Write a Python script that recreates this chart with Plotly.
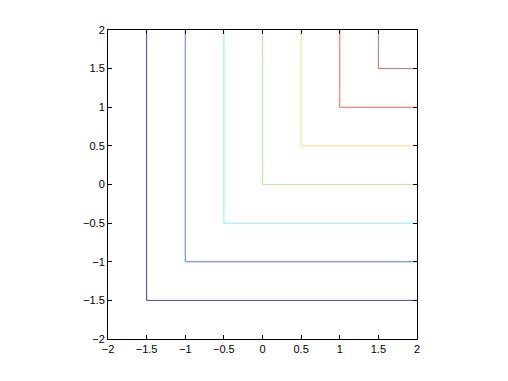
import plotly.graph_objects as go

levels = [-1.5, -1.0, -0.5, 0.0, 0.5, 1.0, 1.5]
colors = ["#4040b0", "#5a78e6", "#80f0f8", "#b8f0a0", "#f8dc78", "#f06450", "#b47070"]
x_ticks = [-2, -1.5, -1, -0.5, 0, 0.5, 1, 1.5, 2]
tick_labels = ["\u22122", "\u22121.5", "\u22121", "\u22120.5", "0", "0.5", "1", "1.5", "2"]
lim = [-2, 2]

fig = go.Figure()
for c, col in zip(levels, colors):
    fig.add_trace(go.Scatter(x=[c, c, lim[1]], y=[lim[1], c, c], mode="lines",
                             line=dict(color=col, width=1), showlegend=False,
                             hoverinfo="skip"))

axis_common = dict(range=lim, tickvals=x_ticks, ticktext=tick_labels,
                   ticks="inside", ticklen=4, tickcolor="black", tickwidth=1,
                   showline=True, linecolor="black", linewidth=1, mirror="ticks",
                   showgrid=False, zeroline=False,
                   tickfont=dict(family="Liberation Sans, Arial", size=11, color="black"))

fig.update_layout(width=508, height=381,
                  margin=dict(l=100, r=99, t=22, b=50),
                  plot_bgcolor="white", paper_bgcolor="white",
                  xaxis=axis_common, yaxis=axis_common)
fig.write_html("out.html")
